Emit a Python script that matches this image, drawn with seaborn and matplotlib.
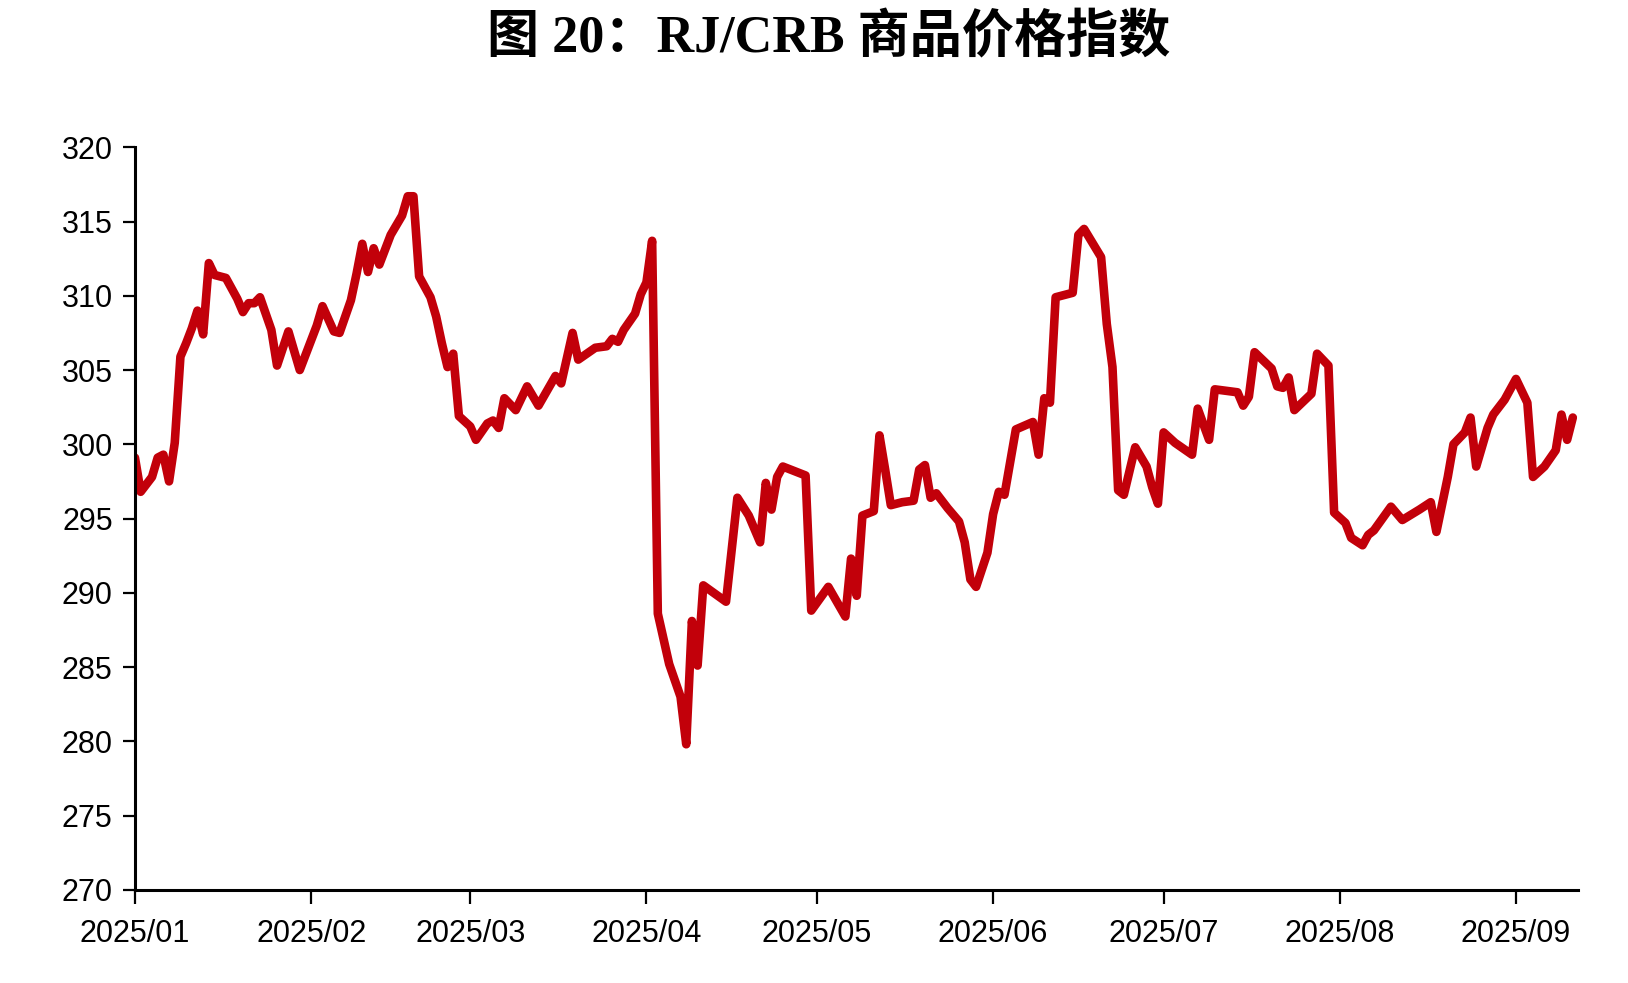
import matplotlib
matplotlib.use("Agg")
import matplotlib.pyplot as plt
import matplotlib.dates as mdates
from matplotlib import font_manager
import pandas as pd
import seaborn as sns

title = "图 20：RJ/CRB 商品价格指数"

dates = [
    "2025-01-01", "2025-01-02", "2025-01-04", "2025-01-05", "2025-01-06", "2025-01-07", "2025-01-08",
    "2025-01-09", "2025-01-10", "2025-01-11", "2025-01-12", "2025-01-13", "2025-01-14", "2025-01-15",
    "2025-01-17", "2025-01-19", "2025-01-20", "2025-01-21", "2025-01-22", "2025-01-23", "2025-01-25",
    "2025-01-26", "2025-01-28", "2025-01-30",
    "2025-02-02", "2025-02-03", "2025-02-05", "2025-02-06", "2025-02-08", "2025-02-09", "2025-02-10",
    "2025-02-11", "2025-02-12", "2025-02-13", "2025-02-15", "2025-02-17", "2025-02-18", "2025-02-19",
    "2025-02-20", "2025-02-22", "2025-02-23", "2025-02-24", "2025-02-25", "2025-02-26", "2025-02-27",
    "2025-03-01", "2025-03-02", "2025-03-04", "2025-03-05", "2025-03-06", "2025-03-07", "2025-03-09",
    "2025-03-11", "2025-03-13", "2025-03-16", "2025-03-17", "2025-03-19", "2025-03-20", "2025-03-23",
    "2025-03-25", "2025-03-26", "2025-03-27", "2025-03-28", "2025-03-30", "2025-03-31",
    "2025-04-01", "2025-04-02", "2025-04-03", "2025-04-05", "2025-04-07", "2025-04-08", "2025-04-09",
    "2025-04-10", "2025-04-11", "2025-04-15", "2025-04-17", "2025-04-19", "2025-04-21", "2025-04-22",
    "2025-04-23", "2025-04-24", "2025-04-25", "2025-04-27", "2025-04-29", "2025-04-30",
    "2025-05-03", "2025-05-06", "2025-05-07", "2025-05-08", "2025-05-09", "2025-05-11", "2025-05-12",
    "2025-05-13", "2025-05-14", "2025-05-16", "2025-05-18", "2025-05-19", "2025-05-20", "2025-05-21",
    "2025-05-22", "2025-05-24", "2025-05-26", "2025-05-27", "2025-05-28", "2025-05-29", "2025-05-31",
    "2025-06-01", "2025-06-02", "2025-06-03", "2025-06-05", "2025-06-08", "2025-06-09", "2025-06-10",
    "2025-06-11", "2025-06-12", "2025-06-15", "2025-06-16", "2025-06-17", "2025-06-20", "2025-06-21",
    "2025-06-22", "2025-06-23", "2025-06-24", "2025-06-26", "2025-06-28", "2025-06-29", "2025-06-30",
    "2025-07-01", "2025-07-03", "2025-07-06", "2025-07-07", "2025-07-09", "2025-07-10", "2025-07-14",
    "2025-07-15", "2025-07-16", "2025-07-17", "2025-07-20", "2025-07-21", "2025-07-22", "2025-07-23",
    "2025-07-24", "2025-07-27", "2025-07-28", "2025-07-30", "2025-07-31",
    "2025-08-02", "2025-08-03", "2025-08-05", "2025-08-06", "2025-08-07", "2025-08-10", "2025-08-12",
    "2025-08-15", "2025-08-17", "2025-08-18", "2025-08-20", "2025-08-21", "2025-08-23", "2025-08-24",
    "2025-08-25", "2025-08-27", "2025-08-28", "2025-08-30",
    "2025-09-01", "2025-09-03", "2025-09-04", "2025-09-06", "2025-09-08", "2025-09-09", "2025-09-10",
    "2025-09-11",
]

index_values = [
    299.1, 296.8, 297.8, 299.1, 299.3, 297.5, 300.1,
    305.9, 306.8, 307.8, 309.0, 307.4, 312.2, 311.4,
    311.2, 309.8, 308.9, 309.5, 309.5, 309.9, 307.7,
    305.3, 307.6, 305.0,
    308.0, 309.3, 307.6, 307.5, 309.7, 311.5, 313.5,
    311.6, 313.2, 312.1, 314.1, 315.4, 316.7, 316.7,
    311.3, 309.9, 308.6, 306.8, 305.2, 306.1, 301.9,
    301.2, 300.3, 301.4, 301.6, 301.1, 303.1, 302.3,
    303.9, 302.6, 304.6, 304.1, 307.5, 305.7, 306.5,
    306.6, 307.1, 306.9, 307.7, 308.8, 310.1,
    310.9, 313.7, 288.6, 285.2, 283.0, 279.8, 288.1,
    285.1, 290.5, 289.4, 296.4, 295.2, 293.4, 297.4,
    295.6, 297.8, 298.5, 298.2, 297.9, 288.8,
    290.4, 288.4, 292.3, 289.8, 295.2, 295.5, 300.6,
    298.3, 295.9, 296.1, 296.2, 298.3, 298.6, 296.4,
    296.7, 295.7, 294.8, 293.4, 290.9, 290.4, 292.7,
    295.3, 296.8, 296.6, 301.0, 301.5, 299.3, 303.1,
    302.8, 309.9, 310.2, 314.1, 314.5, 312.6, 308.1,
    305.2, 296.9, 296.6, 299.8, 298.5, 297.1, 296.0,
    300.8, 300.1, 299.3, 302.4, 300.3, 303.7, 303.5,
    302.6, 303.2, 306.2, 305.1, 303.9, 303.8, 304.5,
    302.3, 303.4, 306.1, 305.3, 295.4,
    294.7, 293.7, 293.2, 293.9, 294.2, 295.8, 294.9,
    295.6, 296.1, 294.1, 297.8, 300.0, 300.8, 301.8,
    298.5, 301.1, 302.0, 303.0,
    304.4, 302.8, 297.8, 298.5, 299.6, 302.0, 300.3,
    301.8,
]

y_ticks = [270, 275, 280, 285, 290, 295, 300, 305, 310, 315, 320]
x_tick_dates = ["2025-01-01", "2025-02-01", "2025-03-01", "2025-04-01", "2025-05-01",
                "2025-06-01", "2025-07-01", "2025-08-01", "2025-09-01"]

sns.set_style("white")
installed = {f.name for f in font_manager.fontManager.ttflist}
tick_family = [f for f in ["Liberation Sans Narrow", "Liberation Sans", "DejaVu Sans"] if f in installed]
title_family = ["Liberation Serif", "Noto Sans CJK SC", "DejaVu Sans"]
plt.rcParams["font.family"] = tick_family

df = pd.DataFrame({"date": pd.to_datetime(dates), "value": index_values})

fig = plt.figure(figsize=(16.28, 9.83), dpi=100)
ax = fig.add_axes([0.0829, 0.0948, 0.8864, 0.7554])

sns.lineplot(data=df, x="date", y="value", ax=ax, color="#C2000A", linewidth=6.2,
             solid_joinstyle="round", solid_capstyle="round")

ax.set_xlim(pd.Timestamp("2025-01-01"), pd.Timestamp("2025-09-11 22:00"))
ax.set_ylim(270, 320)
ax.set_yticks(y_ticks)
ax.set_xticks(pd.to_datetime(x_tick_dates))
ax.xaxis.set_major_formatter(mdates.DateFormatter("%Y/%m"))
ax.set_xlabel("")
ax.set_ylabel("")

for side in ["top", "right"]:
    ax.spines[side].set_visible(False)
for side in ["left", "bottom"]:
    ax.spines[side].set_color("black")
    ax.spines[side].set_linewidth(2.2)

ax.tick_params(axis="y", direction="out", length=9, width=1.6, color="black",
               labelsize=22, pad=7, left=True)
ax.tick_params(axis="x", direction="out", length=10, width=1.6, color="black",
               labelsize=22, pad=11, bottom=True)
for lab in ax.get_xticklabels() + ax.get_yticklabels():
    lab.set_family(tick_family)
    lab.set_color("black")

fig.text(0.509, 0.961, title, ha="center", va="center", fontsize=37.5,
         fontweight="bold", family=title_family, color="black")

fig.savefig("out.png", dpi=100, facecolor="white")
